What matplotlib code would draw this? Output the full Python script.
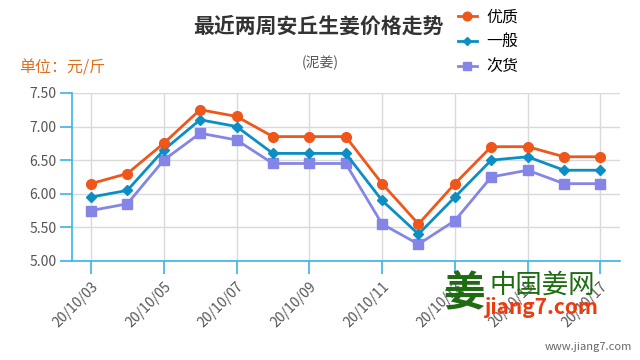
import matplotlib
matplotlib.use("Agg")
import matplotlib.pyplot as plt
import numpy as np

plt.rcParams['font.family'] = ['Noto Sans CJK SC', 'DejaVu Sans']

dates = ["20/10/03", "20/10/04", "20/10/05", "20/10/06", "20/10/07", "20/10/08",
         "20/10/09", "20/10/10", "20/10/11", "20/10/12", "20/10/13", "20/10/14",
         "20/10/15", "20/10/16", "20/10/17"]
youzhi = [6.15, 6.30, 6.75, 7.25, 7.15, 6.85, 6.85, 6.85, 6.15, 5.55, 6.15, 6.70, 6.70, 6.55, 6.55]
yiban = [5.95, 6.05, 6.65, 7.10, 7.00, 6.60, 6.60, 6.60, 5.90, 5.40, 5.95, 6.50, 6.55, 6.35, 6.35]
cihuo = [5.75, 5.85, 6.50, 6.90, 6.80, 6.45, 6.45, 6.45, 5.55, 5.25, 5.60, 6.25, 6.35, 6.15, 6.15]
y_ticks = [5.0, 5.5, 6.0, 6.5, 7.0, 7.5]

axis_color = "#3bb4e5"
grid_color = "#d9d9d9"
text_gray = "#555555"

fig = plt.figure(figsize=(6.4, 3.6), dpi=100)
ax = fig.add_axes([0.1125, 0.275, 0.857, 0.467])

x = np.arange(len(dates))
l1, = ax.plot(x, youzhi, color="#ef561c", lw=2, marker="o", ms=7, zorder=5)
l2, = ax.plot(x, yiban, color="#0a8ec3", lw=2, marker="D", ms=5, zorder=4)
l3, = ax.plot(x, cihuo, color="#8585e8", lw=2, marker="s", ms=7, zorder=3)

ax.set_xlim(-0.52, 14.55)
ax.set_ylim(5.0, 7.5)
ax.set_yticks(y_ticks)
ax.set_yticklabels(["%.2f" % v for v in y_ticks])
ax.set_xticks(x[::2])
ax.set_xticklabels(dates[::2], rotation=45, ha='right', va='top', rotation_mode='anchor')

ax.grid(True, color=grid_color, lw=1)
ax.set_axisbelow(True)
for s in ["top", "right"]:
    ax.spines[s].set_visible(False)
ax.spines["left"].set_color(axis_color)
ax.spines["bottom"].set_color(axis_color)
ax.spines["left"].set_linewidth(1.2)
ax.spines["bottom"].set_linewidth(1.2)
ax.tick_params(axis='both', colors=axis_color, labelcolor=text_gray, labelsize=10, length=9, width=1.2)
ax.tick_params(axis='y', pad=2)
ax.tick_params(axis='x', pad=4)

fig.text(0.498, 0.928, "最近两周安丘生姜价格走势", ha='center', va='center', fontsize=15,
         fontweight='bold', color="#333333")
fig.text(0.5, 0.825, "(泥姜)", ha='center', va='center', fontsize=10, color=text_gray)
fig.text(0.03, 0.81, "单位：元/斤", ha='left', va='center', fontsize=11.5, color="#e0701e")

fig.legend([l1, l2, l3], ["优质", "一般", "次货"], loc='upper left', bbox_to_anchor=(0.705, 0.995),
           frameon=False, fontsize=11.5, handlelength=1.2, handletextpad=0.6, labelspacing=0.5,
           borderaxespad=0, markerscale=0.9)

# watermark
fig.text(0.725, 0.183, "姜", fontsize=30, color="#1e6b12", fontweight='bold', ha='center', va='center')
fig.text(0.847, 0.208, "中国姜网", fontsize=19, color="#1e6b12", ha='center', va='center')
fig.text(0.845, 0.145, "jiang7.com", fontsize=15, color="#ee3a0c", fontweight='bold', style='italic',
         ha='center', va='center')
fig.text(0.988, 0.036, "www.jiang7.com", fontsize=8, color="#666666", ha='right', va='center')

fig.savefig("out.png", dpi=100)
